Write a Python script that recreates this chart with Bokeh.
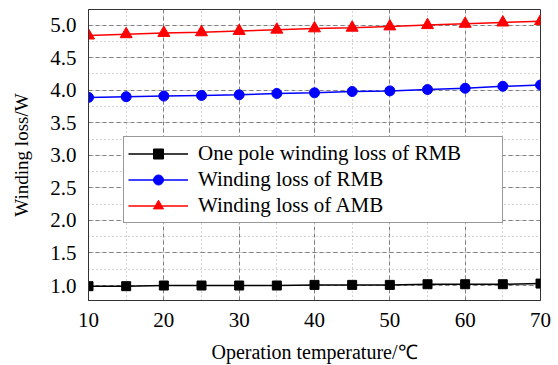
from bokeh.plotting import figure
from bokeh.models import SingleIntervalTicker, NumeralTickFormatter, Legend, LegendItem, Range1d
from bokeh.embed import file_html
from bokeh.resources import INLINE

temps = [10, 15, 20, 25, 30, 35, 40, 45, 50, 55, 60, 65, 70]
one_pole_rmb = [0.99, 0.99, 1.00, 1.00, 1.00, 1.00, 1.01, 1.01, 1.01, 1.02, 1.02, 1.02, 1.03]
winding_rmb = [3.89, 3.90, 3.91, 3.92, 3.93, 3.95, 3.96, 3.98, 3.99, 4.01, 4.03, 4.06, 4.08]
winding_amb = [4.84, 4.86, 4.88, 4.89, 4.91, 4.93, 4.95, 4.96, 4.98, 5.00, 5.02, 5.04, 5.06]

labels = ["One pole winding loss of RMB", "Winding loss of RMB", "Winding loss of AMB"]
FONT = "'Liberation Serif', 'Times New Roman', serif"

p = figure(width=558, height=365, output_backend="svg", toolbar_location=None,
           x_range=Range1d(10, 70), y_range=Range1d(0.77, 5.24),
           min_border_left=88, min_border_right=18, min_border_top=9, min_border_bottom=62)

r1l = p.line(temps, one_pole_rmb, line_color="black", line_width=1.5)
r1m = p.scatter(temps, one_pole_rmb, marker="square", size=9, color="black")
r2l = p.line(temps, winding_rmb, line_color="#0000ff", line_width=1.5)
r2m = p.scatter(temps, winding_rmb, marker="circle", size=10, color="#0000ff")
r3l = p.line(temps, winding_amb, line_color="#ff0000", line_width=1.5)
r3m = p.scatter(temps, winding_amb, marker="triangle", size=12, color="#ff0000")

p.xaxis.ticker = SingleIntervalTicker(interval=10, num_minor_ticks=2)
p.yaxis.ticker = SingleIntervalTicker(interval=0.5, num_minor_ticks=2)
p.yaxis.formatter = NumeralTickFormatter(format="0.0")

for ax in (p.xaxis[0], p.yaxis[0]):
    ax.major_label_text_font = FONT
    ax.major_label_text_font_size = "21px"
    ax.major_label_text_color = "black"
    ax.axis_label_text_font = FONT
    ax.axis_label_text_font_style = "normal"
    ax.axis_label_text_color = "black"
    ax.axis_line_color = "#333333"
    ax.major_tick_line_color = None
    ax.minor_tick_line_color = None

p.xaxis.axis_label = "Operation temperature/\u2103"
p.yaxis.axis_label = "Winding loss/W"
p.xaxis.axis_label_text_font_size = "20px"
p.yaxis.axis_label_text_font_size = "19px"
p.xaxis.axis_label_standoff = 11
p.yaxis.axis_label_standoff = 15
p.xaxis.major_label_standoff = 6
p.yaxis.major_label_standoff = 6

for g in (p.xgrid[0], p.ygrid[0]):
    g.grid_line_color = "#808080"
    g.grid_line_dash = "4 3"
    g.grid_line_width = 1
    g.minor_grid_line_color = "#a8a8a8"
    g.minor_grid_line_dash = "1 3"
    g.minor_grid_line_width = 1

p.outline_line_color = "#333333"
p.outline_line_width = 1

legend = Legend(items=[
    LegendItem(label=labels[0], renderers=[r1l, r1m]),
    LegendItem(label=labels[1], renderers=[r2l, r2m]),
    LegendItem(label=labels[2], renderers=[r3l, r3m]),
], location=(35, 77))
legend.label_text_font = FONT
legend.label_text_font_size = "21px"
legend.label_text_color = "black"
legend.glyph_width = 60
legend.glyph_height = 25
legend.label_height = 25
legend.label_width = 300
legend.spacing = 1
legend.padding = 4
legend.margin = 0
legend.border_line_color = "#333333"
legend.border_line_width = 1
legend.background_fill_alpha = 1
legend.label_standoff = 10
p.add_layout(legend, "center")

open("out.html", "w").write(file_html(p, INLINE))
